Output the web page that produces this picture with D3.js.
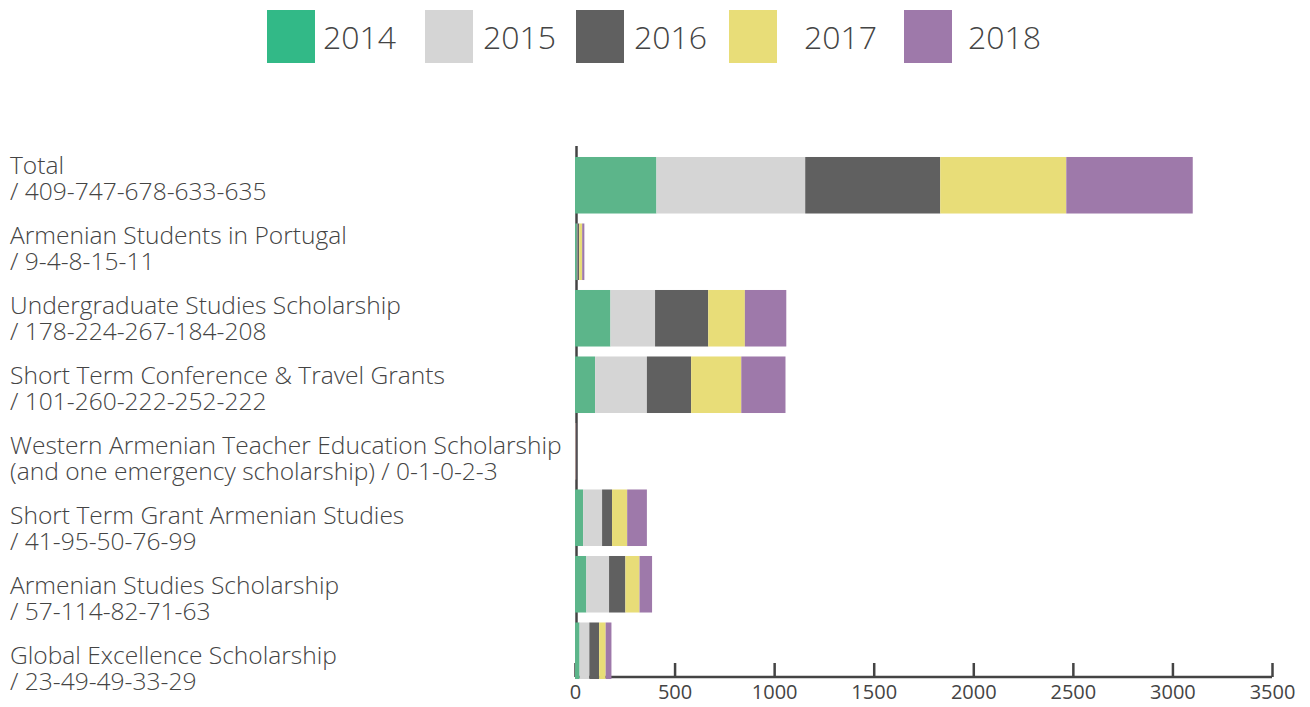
<!DOCTYPE html>
<html>
<head>
<meta charset="utf-8">
<script src="https://cdn.jsdelivr.net/npm/d3@7/dist/d3.min.js"></script>
<style>
  html, body { margin: 0; padding: 0; background: #fff; }
  svg { display: block; }
</style>
</head>
<body>
<svg id="chart" width="1310" height="707"></svg>
<script>
// ---------- DATA ----------
const years = ["2014", "2015", "2016", "2017", "2018"];
const categories = [
  "Total",
  "Armenian Students in Portugal",
  "Undergraduate Studies Scholarship",
  "Short Term Conference & Travel Grants",
  "Western Armenian Teacher Education Scholarship",
  "Short Term Grant Armenian Studies",
  "Armenian Studies Scholarship",
  "Global Excellence Scholarship"
];
const secondLinePrefix = ["", "", "", "", "(and one emergency scholarship) ", "", "", ""];
const v2014 = [409, 9, 178, 101, 0, 41, 57, 23];
const v2015 = [747, 4, 224, 260, 1, 95, 114, 49];
const v2016 = [678, 8, 267, 222, 0, 50, 82, 49];
const v2017 = [633, 15, 184, 252, 2, 76, 71, 33];
const v2018 = [635, 11, 208, 222, 3, 99, 63, 29];
const xTicks = [0, 500, 1000, 1500, 2000, 2500, 3000, 3500];

// ---------- STYLE ----------
const barColors = ["#5cb58a", "#d5d5d5", "#606060", "#e8dd78", "#9e79aa"];
const legendColors = ["#32b987", "#d5d5d5", "#606060", "#e8dd78", "#9e79aa"];
const textColor = "#444";
const labelFont = "'Open Sans', 'DejaVu Sans', sans-serif";

const seriesValues = [v2014, v2015, v2016, v2017, v2018];
const rows = categories.map((c, i) => {
  const r = { category: c };
  years.forEach((y, k) => r[y] = seriesValues[k][i]);
  return r;
});

const svg = d3.select("#chart");

const x = d3.scaleLinear().domain([0, 3500]).range([575, 1272]);
const y = d3.scaleBand().domain(categories).range([152, 684])
  .paddingInner(0.15).paddingOuter(0.075);
const labelY = d3.scalePoint().domain(categories).range([165, 655]);

// y axis line (under bars)
svg.append("line")
  .attr("x1", 576.5).attr("x2", 576.5)
  .attr("y1", 146).attr("y2", 678)
  .attr("stroke", textColor).attr("stroke-width", 2.5);

// x axis
const xAxis = d3.axisBottom(x).tickValues(xTicks).tickSize(-14).tickPadding(20)
  .tickFormat(d3.format("d"));
const gx = svg.append("g").attr("transform", "translate(0,677)").call(xAxis);
gx.select(".domain").attr("d", `M${x(0)},0H${x(3500)}`)
  .attr("stroke", textColor).attr("stroke-width", 2.5);
gx.selectAll(".tick line").attr("stroke", textColor).attr("stroke-width", 2.5);
gx.selectAll(".tick text")
  .attr("fill", textColor)
  .attr("font-family", "'Open Sans', sans-serif")
  .attr("font-size", 20)
  .attr("dy", "0.32em")
  .attr("y", 16);

// stacked bars
const stack = d3.stack().keys(years);
const series = stack(rows);
svg.append("g").selectAll("g")
  .data(series)
  .join("g")
  .attr("fill", (d, i) => barColors[i])
  .selectAll("rect")
  .data(d => d)
  .join("rect")
  .attr("x", d => x(d[0]))
  .attr("width", d => Math.max(0, x(d[1]) - x(d[0])))
  .attr("y", d => y(d.data.category))
  .attr("height", y.bandwidth());

// category labels
const labels = svg.append("g").attr("fill", textColor)
  .attr("font-family", labelFont).attr("font-weight", 300);
const lab = labels.selectAll("text")
  .data(categories)
  .join("text")
  .attr("x", 10)
  .attr("y", d => labelY(d));
lab.append("tspan").attr("x", 10).attr("dy", "0.36em").text(d => d);
lab.append("tspan").attr("x", 10).attr("class", "second")
  .text((d, i) => secondLinePrefix[i] + "/ " + seriesValues.map(v => v[i]).join("-"));

// fit label font size so the longest line matches reference width
labels.attr("font-size", 20);
let maxW = 0;
lab.selectAll("tspan").each(function () { maxW = Math.max(maxW, this.getComputedTextLength()); });
const labelSize = 20 * 552 / maxW;
labels.attr("font-size", labelSize);
lab.selectAll("tspan.second").attr("dy", 26);

// legend
const legendSquareX = [267, 425, 576, 729, 904];
const legendTextX = [323, 483, 634, 804, 968];
const lg = svg.append("g");
years.forEach((yr, i) => {
  lg.append("rect").attr("x", legendSquareX[i]).attr("y", 10)
    .attr("width", 48).attr("height", 53).attr("fill", legendColors[i]);
  lg.append("text").attr("x", legendTextX[i]).attr("y", 37)
    .attr("dy", "0.36em")
    .attr("fill", textColor)
    .attr("font-family", labelFont).attr("font-weight", 300)
    .attr("font-size", 32).text(yr);
});
</script>
</body>
</html>
